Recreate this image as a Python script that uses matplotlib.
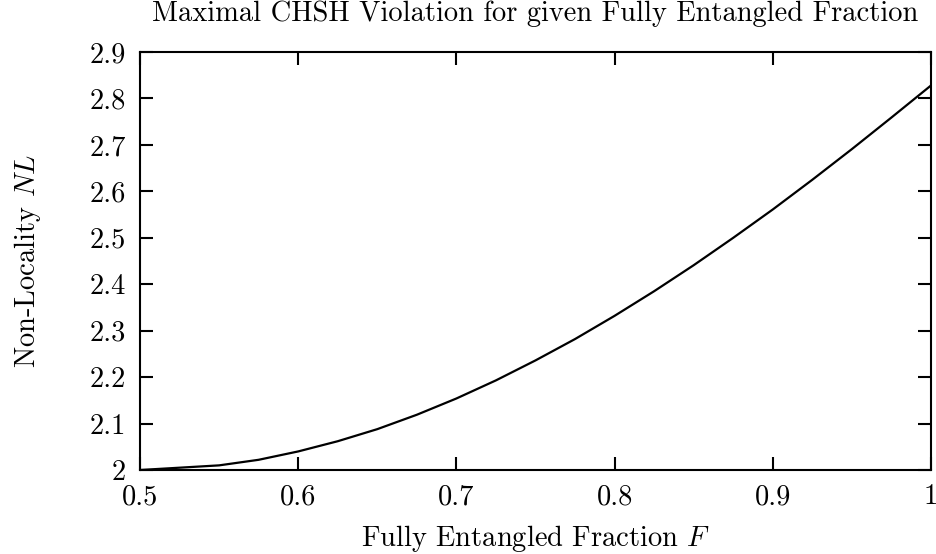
import numpy as np
import matplotlib
matplotlib.use("Agg")
import matplotlib.pyplot as plt
from matplotlib.ticker import FuncFormatter, MultipleLocator

# values
fraction = [0.500, 0.525, 0.550, 0.575, 0.600, 0.625, 0.650, 0.675, 0.700, 0.725,
            0.750, 0.775, 0.800, 0.825, 0.850, 0.875, 0.900, 0.925, 0.950, 0.975, 1.000]
nonlocality = [2.000, 2.005, 2.010, 2.022, 2.040, 2.062, 2.088, 2.119, 2.154, 2.193,
               2.236, 2.282, 2.332, 2.385, 2.441, 2.500, 2.561, 2.625, 2.691, 2.759, 2.828]

plt.rcParams['font.family'] = 'cmr10'
plt.rcParams['mathtext.fontset'] = 'cm'
plt.rcParams['axes.formatter.use_mathtext'] = True

fig = plt.figure(figsize=(9.37, 5.54), dpi=100)
ax = fig.add_axes([0.1494, 0.1516, 0.8442, 0.7545])

ax.plot(fraction, nonlocality, color='black', lw=1.6)

ax.set_xlim(0.5, 1.0)
ax.set_ylim(2.0, 2.9)
ax.xaxis.set_major_locator(MultipleLocator(0.1))
ax.yaxis.set_major_locator(MultipleLocator(0.1))
fmt = FuncFormatter(lambda v, pos: '%g' % round(v, 2))
ax.xaxis.set_major_formatter(fmt)
ax.yaxis.set_major_formatter(fmt)

fs = 20.5
ax.tick_params(direction='in', length=9.5, width=1.5, top=True, right=True,
               labelsize=fs)
ax.tick_params(axis='x', pad=10)
ax.tick_params(axis='y', pad=10)
for s in ax.spines.values():
    s.set_linewidth(1.5)

ax.set_title('Maximal CHSH Violation for given Fully Entangled Fraction',
             fontsize=fs, pad=22)
ax.set_xlabel('Fully Entangled Fraction $F$', fontsize=fs, labelpad=9)
ax.set_ylabel('Non-Locality $NL$', fontsize=fs, labelpad=34)

fig.savefig('out.png', dpi=100)
